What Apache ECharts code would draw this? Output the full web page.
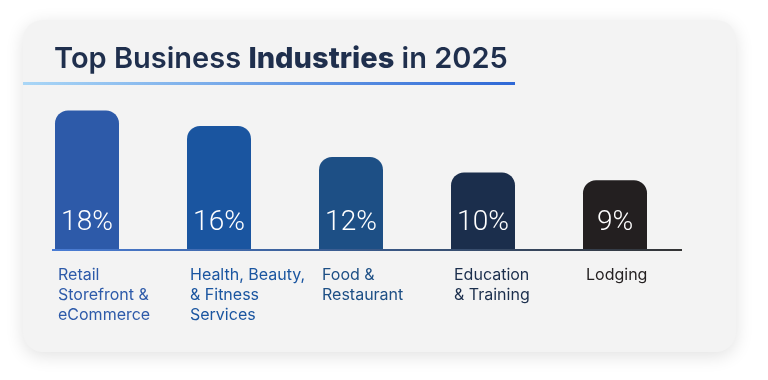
<!DOCTYPE html>
<html><head><meta charset="utf-8">
<script src="https://cdn.jsdelivr.net/npm/echarts@6/dist/echarts.min.js"></script>
<style>html,body{margin:0;padding:0;background:#fff}#c{width:768px;height:380px}</style>
</head><body><div id="c"></div>
<script>
const categories = ['Retail\nStorefront &\neCommerce', 'Health, Beauty,\n& Fitness\nServices', 'Food &\nRestaurant', 'Education\n& Training', 'Lodging'];
const values = [18, 16, 12, 10, 9];
const colors = ['#2d5aa9', '#1a55a0', '#1d4f85', '#1b2e4c', '#231f20'];

const chart = echarts.init(document.getElementById('c'), null, {renderer: 'canvas'});
chart.setOption({
  backgroundColor: '#fff',
  animation: false,
  graphic: [
    {type: 'rect', z: -10, shape: {x: 23, y: 20, width: 713, height: 332, r: 20},
     style: {fill: '#f3f3f3', shadowBlur: 18, shadowColor: 'rgba(0,0,0,0.12)', shadowOffsetY: 4}},
    {type: 'rect', z: 5, shape: {x: 23, y: 82, width: 492, height: 3},
     style: {fill: new echarts.graphic.LinearGradient(0, 0, 1, 0, [{offset: 0, color: '#a9d6f6'}, {offset: 1, color: '#2e68d6'}])}},
    {type: 'line', z: 5, shape: {x1: 52, y1: 250, x2: 682, y2: 250},
     style: {lineWidth: 2, stroke: new echarts.graphic.LinearGradient(0, 0, 1, 0, [{offset: 0, color: '#4a7dd6'}, {offset: 0.5, color: '#3a5a8a'}, {offset: 1, color: '#333333'}])}}
  ],
  title: {
    left: 49, top: 40,
    text: '{a|Top Business }{b|Industries}{a| in 2025}',
    textStyle: {
      rich: {
        a: {fontFamily: 'Inter', fontSize: 29, fontWeight: 600, color: '#1f2f4d'},
        b: {fontFamily: 'Inter', fontSize: 29, fontWeight: 800, color: '#1f2f4d'}
      }
    }
  },
  grid: {left: 21, right: 87, top: 95, bottom: 130},
  xAxis: {type: 'category', data: categories, axisLine: {show: false}, axisTick: {show: false},
    axisLabel: {interval: 0, align: 'center', verticalAlign: 'top', margin: 15,
      formatter: function (v, i) { return v.split('\n').map(s => '{l' + i + '|' + s + '}').join('\n'); },
      rich: Object.fromEntries(colors.map((c, i) => ['l' + i, {width: 58, align: 'left', lineHeight: 20, fontSize: 16, fontFamily: 'Inter', color: c}]))
    }},
  yAxis: {type: 'value', min: 0, max: 20, show: false},
  series: [{
    type: 'bar', barWidth: 64,
    data: values.map((v, i) => ({value: v, itemStyle: {color: colors[i]}})),
    itemStyle: {borderRadius: [13, 13, 0, 0]},
    label: {show: true, position: 'insideBottom', distance: 13, formatter: '{c}%', color: '#fff',
      fontFamily: 'Roboto', fontWeight: 300, fontSize: 28}
  }]
});
</script></body></html>
